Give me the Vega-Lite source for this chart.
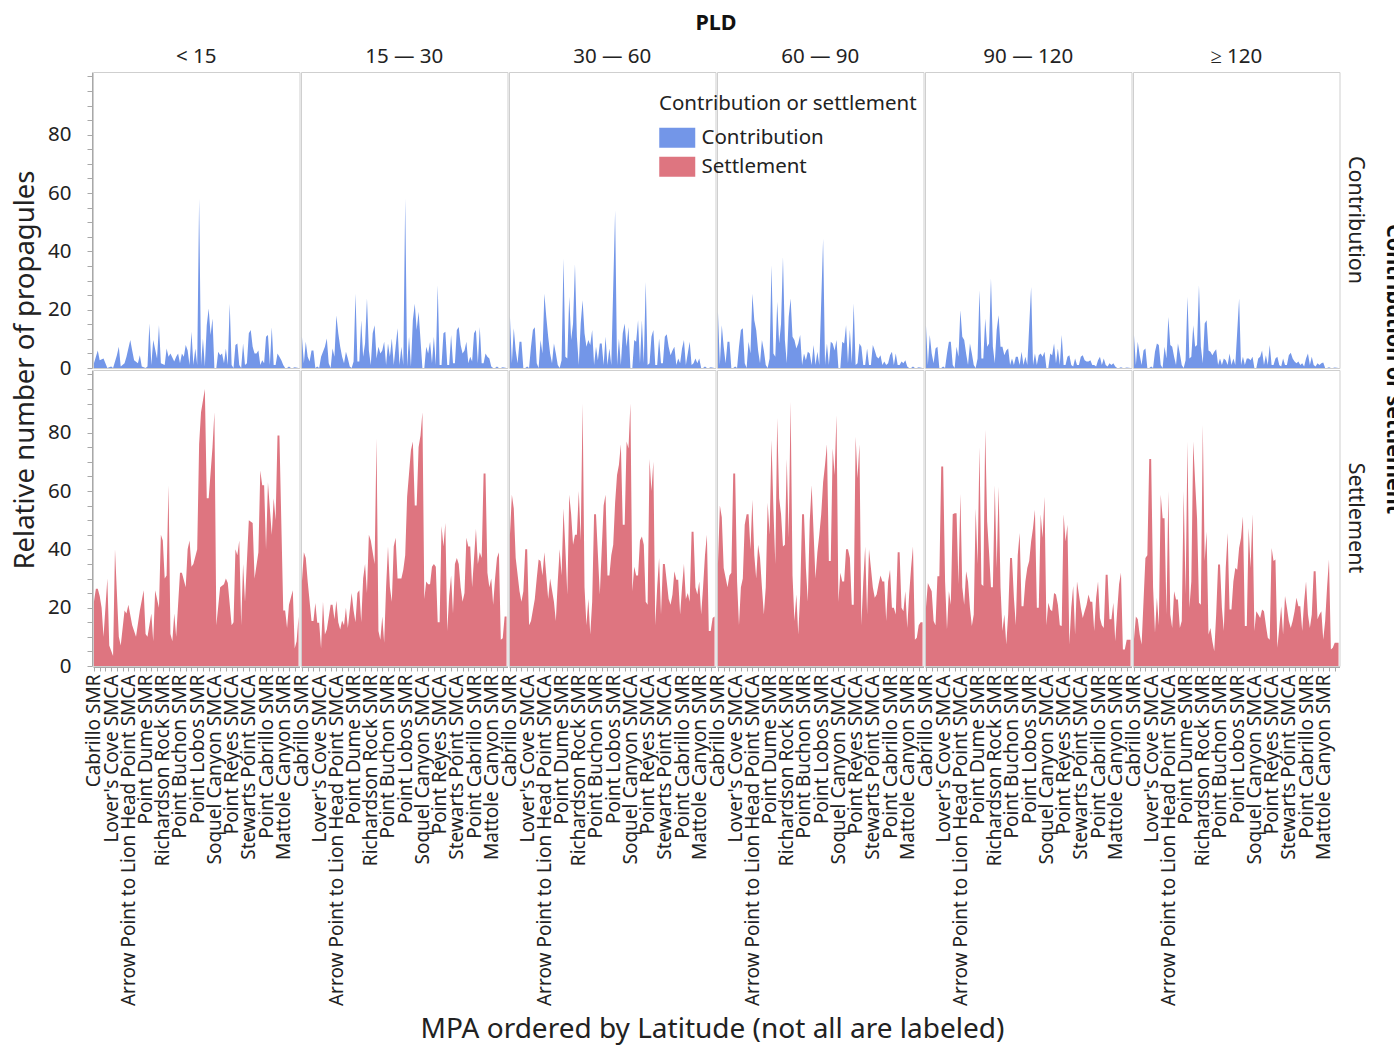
{
"$schema": "https://vega.github.io/schema/vega-lite/v6.json",
"padding": {"left": 12, "top": 12, "right": 0, "bottom": 2},
"title": {"text": "Relative number of propagules", "orient": "left", "anchor": "middle", "fontSize": 27.5, "fontWeight": "normal", "color": "#222", "offset": 8, "dx": 158},
"hconcat": [{
"title": {"text": "MPA ordered by Latitude (not all are labeled)", "orient": "bottom", "anchor": "middle", "fontSize": 28, "fontWeight": "normal", "color": "#222", "offset": 10, "dx": -13},
"data": {"values": [
{"p":1,"i":0,"c":1.6,"s":22},{"p":1,"i":1,"s":26.5},{"p":1,"i":2,"c":6,"s":26.5},{"p":1,"i":3,"c":2.7,"s":24},{"p":1,"i":4,"s":20},{"p":1,"i":5,"c":3.3,"s":10},{"p":1,"i":6,"c":1.6},{"p":1,"i":7,"c":0,"s":30},{"p":1,"i":8,"s":7},{"p":1,"i":9,"c":0.5},{"p":1,"i":10,"c":0,"s":3.4},{"p":1,"i":11,"s":40},{"p":1,"i":12,"c":4.4},{"p":1,"i":13,"c":7.3,"s":10},{"p":1,"i":14,"c":0.5,"s":7},{"p":1,"i":16,"c":1.6,"s":19},{"p":1,"i":17,"c":3.9,"s":18},{"p":1,"i":18,"s":21},{"p":1,"i":19,"c":9.6},{"p":1,"i":20,"c":6,"s":14},{"p":1,"i":21,"c":2.7},{"p":1,"i":22,"s":10},{"p":1,"i":23,"c":1.6},{"p":1,"i":24,"c":4.4,"s":19},{"p":1,"i":25,"c":0.5},{"p":1,"i":26,"s":26},{"p":1,"i":27,"c":0,"s":11},{"p":1,"i":28,"c":0.5,"s":10},{"p":1,"i":29,"c":15.3},{"p":1,"i":30,"c":1,"s":18},{"p":1,"i":31,"c":9.6,"s":8.5},{"p":1,"i":32,"s":26},{"p":1,"i":33,"c":3.3},{"p":1,"i":34,"c":14.7,"s":20},{"p":1,"i":35,"c":1.6,"s":45},{"p":1,"i":36,"s":43},{"p":1,"i":37,"c":1,"s":30},{"p":1,"i":38,"c":6.7,"s":31},{"p":1,"i":39,"c":3.9,"s":62},{"p":1,"i":40,"c":5,"s":11},{"p":1,"i":41,"s":8.5},{"p":1,"i":42,"c":2.2,"s":18},{"p":1,"i":43,"c":3.9,"s":10},{"p":1,"i":44,"c":5},{"p":1,"i":45,"c":1.6,"s":32},{"p":1,"i":46,"c":5,"s":32},{"p":1,"i":47,"c":3.9},{"p":1,"i":48,"c":7.9,"s":27},{"p":1,"i":49,"c":6,"s":40},{"p":1,"i":50,"c":1,"s":43},{"p":1,"i":51,"c":12.4,"s":34},{"p":1,"i":52,"c":1,"s":35},{"p":1,"i":53,"c":6.7},{"p":1,"i":54,"c":1,"s":40},{"p":1,"i":55,"c":58,"s":76},{"p":1,"i":56,"c":1,"s":87},{"p":1,"i":57,"c":10.1},{"p":1,"i":58,"c":0.5,"s":95},{"p":1,"i":59,"c":14.7,"s":57.5},{"p":1,"i":60,"c":20.4,"s":57.5},{"p":1,"i":61,"c":11.3},{"p":1,"i":62,"c":17,"s":75},{"p":1,"i":63,"c":0,"s":87},{"p":1,"i":64,"c":0,"s":14},{"p":1,"i":65,"c":5.6},{"p":1,"i":66,"c":4.4,"s":27},{"p":1,"i":67,"c":5},{"p":1,"i":68,"c":1.6,"s":28},{"p":1,"i":69,"c":6.7,"s":30},{"p":1,"i":70,"c":1,"s":28.5},{"p":1,"i":71,"c":22},{"p":1,"i":72,"c":1,"s":14},{"p":1,"i":73,"c":0,"s":15},{"p":1,"i":74,"c":7.9,"s":40},{"p":1,"i":75,"c":8.4,"s":38},{"p":1,"i":76,"c":1,"s":43},{"p":1,"i":77,"c":0,"s":14},{"p":1,"i":78,"c":8.4,"s":35},{"p":1,"i":79,"c":1,"s":22},{"p":1,"i":80,"c":1.6},{"p":1,"i":81,"c":11.9,"s":50},{"p":1,"i":82,"c":13},{"p":1,"i":83,"c":7.3,"s":49},{"p":1,"i":84,"c":5,"s":30},{"p":1,"i":85,"c":5},{"p":1,"i":86,"c":6,"s":39},{"p":1,"i":87,"c":1,"s":67},{"p":1,"i":88,"c":2.7,"s":62},{"p":1,"i":89,"c":1.6,"s":62},{"p":1,"i":90,"c":10.7,"s":40},{"p":1,"i":91,"c":11.3,"s":63},{"p":1,"i":92,"c":1},{"p":1,"i":93,"c":14,"s":45},{"p":1,"i":94,"c":1,"s":57.5},{"p":1,"i":95,"c":1,"s":50},{"p":1,"i":96,"c":5,"s":79},{"p":1,"i":97,"c":3.9,"s":79},{"p":1,"i":98,"c":2.7},{"p":1,"i":99,"c":1,"s":19},{"p":1,"i":100,"c":0,"s":19},{"p":1,"i":101,"c":0,"s":13},{"p":1,"i":102,"c":0.5,"s":21},{"p":1,"i":103,"c":0},{"p":1,"i":104,"c":0,"s":26},{"p":1,"i":105,"c":0.3,"s":6},{"p":1,"i":106,"s":8.5},{"p":1,"i":107,"c":0,"s":17},
{"p":2,"i":0,"c":10.7,"s":29},{"p":2,"i":1,"c":1.6,"s":39},{"p":2,"i":2,"c":9,"s":37},{"p":2,"i":3,"c":3.9,"s":29},{"p":2,"i":4,"c":2.2},{"p":2,"i":5,"c":6,"s":15.4},{"p":2,"i":6,"c":6,"s":15.4},{"p":2,"i":7,"c":0,"s":21.6},{"p":2,"i":8,"c":0.5,"s":14.8},{"p":2,"i":9,"c":0,"s":14.8},{"p":2,"i":10,"c":3.9,"s":6},{"p":2,"i":11,"s":22},{"p":2,"i":12,"c":7.3,"s":10.8},{"p":2,"i":13,"c":10.1,"s":12.5},{"p":2,"i":14,"c":1.6},{"p":2,"i":15,"c":0,"s":21},{"p":2,"i":16,"c":6.7,"s":21},{"p":2,"i":17,"c":3.9,"s":16},{"p":2,"i":18,"c":18,"s":22.4},{"p":2,"i":19,"c":11.9,"s":15},{"p":2,"i":20,"c":7.3,"s":12.5},{"p":2,"i":21,"c":3.9,"s":15.6},{"p":2,"i":22,"c":1.6,"s":14},{"p":2,"i":23,"c":5.6,"s":20},{"p":2,"i":24,"c":3.3,"s":13},{"p":2,"i":25,"c":0.5},{"p":2,"i":26,"c":0,"s":25},{"p":2,"i":27,"c":2.2,"s":19},{"p":2,"i":28,"c":25.5,"s":15},{"p":2,"i":29,"c":2.2,"s":25},{"p":2,"i":30,"c":2.2,"s":26},{"p":2,"i":31,"c":16.4,"s":15},{"p":2,"i":32,"c":3.9,"s":30},{"p":2,"i":33,"c":8.4,"s":35},{"p":2,"i":34,"c":23.8,"s":25},{"p":2,"i":35,"c":6,"s":45},{"p":2,"i":36,"c":1,"s":43},{"p":2,"i":37,"c":11.9,"s":39},{"p":2,"i":38,"c":14.7,"s":35},{"p":2,"i":39,"c":3.3,"s":78},{"p":2,"i":40,"c":7.3,"s":12},{"p":2,"i":41,"c":5,"s":9},{"p":2,"i":42,"c":6,"s":17},{"p":2,"i":43,"c":9,"s":8},{"p":2,"i":44,"c":1,"s":27},{"p":2,"i":45,"c":8.4,"s":41},{"p":2,"i":46,"c":3.9,"s":27},{"p":2,"i":47,"c":10.1,"s":22},{"p":2,"i":48,"c":1,"s":41},{"p":2,"i":49,"c":7.3,"s":44},{"p":2,"i":50,"c":13.6,"s":30},{"p":2,"i":51,"c":1},{"p":2,"i":52,"c":7.3,"s":30},{"p":2,"i":53,"c":1,"s":33},{"p":2,"i":54,"c":58,"s":38},{"p":2,"i":55,"c":0.5,"s":58},{"p":2,"i":56,"c":10.7,"s":66},{"p":2,"i":57,"c":0.5,"s":74},{"p":2,"i":58,"c":16.4,"s":77},{"p":2,"i":59,"c":22,"s":55},{"p":2,"i":60,"c":13,"s":55},{"p":2,"i":61,"c":19.3,"s":75},{"p":2,"i":62,"s":79},{"p":2,"i":63,"c":0,"s":87},{"p":2,"i":64,"c":0,"s":23},{"p":2,"i":65,"c":7.3,"s":29},{"p":2,"i":66,"c":5,"s":28},{"p":2,"i":67,"c":9,"s":28},{"p":2,"i":68,"c":1.6,"s":34},{"p":2,"i":69,"c":10.7,"s":35},{"p":2,"i":70,"c":1,"s":34},{"p":2,"i":71,"c":28.4,"s":15},{"p":2,"i":72,"c":1,"s":15},{"p":2,"i":73,"c":1,"s":48},{"p":2,"i":74,"c":11.9,"s":41},{"p":2,"i":75,"c":12.4,"s":49},{"p":2,"i":76,"c":1,"s":12},{"p":2,"i":77,"c":1,"s":24},{"p":2,"i":78,"c":11.3,"s":31},{"p":2,"i":79,"c":1.6,"s":18},{"p":2,"i":80,"c":1.6,"s":35},{"p":2,"i":81,"c":13,"s":37},{"p":2,"i":82,"c":14.1,"s":35},{"p":2,"i":83,"c":7.9,"s":27},{"p":2,"i":84,"c":5,"s":22},{"p":2,"i":85,"c":6,"s":25},{"p":2,"i":86,"c":9,"s":44},{"p":2,"i":87,"c":1.6,"s":41},{"p":2,"i":88,"c":3.9,"s":41},{"p":2,"i":89,"c":2.2,"s":27},{"p":2,"i":90,"c":11.9,"s":37},{"p":2,"i":91,"c":13,"s":47},{"p":2,"i":92,"c":1.6,"s":35},{"p":2,"i":93,"c":14.1,"s":39},{"p":2,"i":94,"c":1.6,"s":37},{"p":2,"i":95,"c":1.6,"s":66},{"p":2,"i":96,"c":5,"s":66},{"p":2,"i":97,"c":3.9,"s":32},{"p":2,"i":98,"c":3.3,"s":27},{"p":2,"i":99,"c":0.5,"s":30},{"p":2,"i":100,"c":0,"s":21},{"p":2,"i":101,"c":0,"s":30},{"p":2,"i":102,"c":0.5,"s":37},{"p":2,"i":103,"c":0,"s":39},{"p":2,"i":104,"c":0,"s":9},{"p":2,"i":105,"c":0.3,"s":9.5},{"p":2,"i":106,"s":17},{"p":2,"i":107,"c":0,"s":17},
{"p":3,"i":0,"c":17.5,"s":45},{"p":3,"i":1,"c":1.6,"s":58.7},{"p":3,"i":2,"c":13.6,"s":54},{"p":3,"i":3,"c":6,"s":37},{"p":3,"i":4,"c":1.6},{"p":3,"i":5,"c":9,"s":25.6},{"p":3,"i":6,"c":9,"s":22},{"p":3,"i":7,"c":0,"s":25.6},{"p":3,"i":8,"c":0,"s":40},{"p":3,"i":9,"c":0.5,"s":40},{"p":3,"i":10,"c":0,"s":14},{"p":3,"i":11,"c":7.3,"s":15.4},{"p":3,"i":12,"c":13},{"p":3,"i":13,"c":14,"s":23},{"p":3,"i":14,"c":1.6,"s":30},{"p":3,"i":15,"c":0,"s":36.5},{"p":3,"i":16,"c":9.6,"s":36},{"p":3,"i":17,"c":5,"s":31},{"p":3,"i":18,"c":25.5,"s":39},{"p":3,"i":19,"c":17.5,"s":31},{"p":3,"i":20,"c":10.7,"s":23},{"p":3,"i":21,"c":5,"s":30},{"p":3,"i":22,"c":1.6,"s":26},{"p":3,"i":23,"c":8.4,"s":22},{"p":3,"i":24,"c":5,"s":15.4},{"p":3,"i":25,"c":1,"s":29},{"p":3,"i":26,"c":0,"s":40},{"p":3,"i":27,"c":2.7,"s":31},{"p":3,"i":28,"c":37.5,"s":54},{"p":3,"i":29,"c":3.9,"s":40},{"p":3,"i":30,"c":3.3,"s":24.5},{"p":3,"i":31,"c":24.4,"s":58.7},{"p":3,"i":32,"c":9.6,"s":52},{"p":3,"i":33,"c":15.3,"s":41.6},{"p":3,"i":34,"c":35.6,"s":45},{"p":3,"i":35,"c":10.7,"s":45},{"p":3,"i":36,"c":1,"s":60},{"p":3,"i":37,"c":15.3,"s":43},{"p":3,"i":38,"c":23.2,"s":90},{"p":3,"i":39,"c":11.9,"s":27},{"p":3,"i":40,"c":7.3,"s":14},{"p":3,"i":41,"c":9.6,"s":23},{"p":3,"i":42,"c":7.9,"s":10.8},{"p":3,"i":43,"c":13,"s":22},{"p":3,"i":44,"c":1,"s":52},{"p":3,"i":45,"c":7.3,"s":52},{"p":3,"i":46,"c":2.7},{"p":3,"i":47,"c":8.4,"s":24.5},{"p":3,"i":48,"c":8.4,"s":40},{"p":3,"i":49,"c":1,"s":55},{"p":3,"i":50,"c":10.7,"s":58.7},{"p":3,"i":51,"c":1,"s":31},{"p":3,"i":52,"c":6.7,"s":31},{"p":3,"i":53,"c":1,"s":38},{"p":3,"i":54,"s":41.6},{"p":3,"i":55,"c":54,"s":56},{"p":3,"i":56,"c":1,"s":65.5},{"p":3,"i":57,"c":10.1,"s":69},{"p":3,"i":58,"c":1,"s":76},{"p":3,"i":59,"c":11.9,"s":48.4},{"p":3,"i":60,"c":15.3,"s":48.4},{"p":3,"i":61,"c":7.3,"s":77},{"p":3,"i":62,"c":14.1,"s":74.6},{"p":3,"i":63,"c":0,"s":90},{"p":3,"i":64,"c":0,"s":25.6},{"p":3,"i":65,"c":9.6,"s":34},{"p":3,"i":66,"c":9,"s":31},{"p":3,"i":67,"c":16.4,"s":31},{"p":3,"i":68,"c":1.6,"s":43},{"p":3,"i":69,"c":16.4,"s":44.4},{"p":3,"i":70,"c":1.6,"s":41.6},{"p":3,"i":71,"c":29.5,"s":22},{"p":3,"i":72,"c":1,"s":21},{"p":3,"i":73,"c":1.6,"s":71},{"p":3,"i":74,"c":10.7,"s":60},{"p":3,"i":75,"c":13,"s":70},{"p":3,"i":76,"c":1,"s":14},{"p":3,"i":77,"c":1,"s":27},{"p":3,"i":78,"c":10.1,"s":37},{"p":3,"i":79,"c":1.6,"s":17.7},{"p":3,"i":80,"c":1.6,"s":35},{"p":3,"i":81,"c":10.7,"s":35},{"p":3,"i":82,"c":11.6,"s":29},{"p":3,"i":83,"c":7.3,"s":23},{"p":3,"i":84,"c":4.4,"s":21},{"p":3,"i":85,"c":6,"s":24.5},{"p":3,"i":86,"c":7.3,"s":32.5},{"p":3,"i":87,"c":1,"s":29.6},{"p":3,"i":88,"c":3.3,"s":29.6},{"p":3,"i":89,"c":1.6,"s":17.7},{"p":3,"i":90,"c":6.7,"s":27},{"p":3,"i":91,"c":9.6,"s":35},{"p":3,"i":92,"c":1,"s":23},{"p":3,"i":93,"s":25},{"p":3,"i":94,"c":9,"s":22},{"p":3,"i":95,"c":1,"s":46},{"p":3,"i":96,"c":1.6,"s":46},{"p":3,"i":97,"c":3.3,"s":27},{"p":3,"i":98,"c":1.6,"s":24.5},{"p":3,"i":99,"c":3.3,"s":29},{"p":3,"i":100,"c":0,"s":17.7},{"p":3,"i":101,"c":0,"s":27},{"p":3,"i":102,"c":0.5,"s":38},{"p":3,"i":103,"c":0,"s":45},{"p":3,"i":104,"c":0,"s":12},{"p":3,"i":105,"c":0.3,"s":12},{"p":3,"i":106,"s":16.5},{"p":3,"i":107,"c":0,"s":17},
{"p":4,"i":0,"c":19.3,"s":35},{"p":4,"i":1,"c":1,"s":55},{"p":4,"i":2,"c":14.7,"s":51},{"p":4,"i":3,"c":7.3,"s":33.6},{"p":4,"i":4,"c":1.6},{"p":4,"i":5,"c":9,"s":27},{"p":4,"i":6,"c":9,"s":31},{"p":4,"i":7,"c":0,"s":32},{"p":4,"i":8,"c":0,"s":66},{"p":4,"i":9,"c":0.5,"s":66},{"p":4,"i":10,"c":0,"s":29},{"p":4,"i":11,"c":7.3,"s":14},{"p":4,"i":12,"c":13,"s":27},{"p":4,"i":13,"c":13.6,"s":30},{"p":4,"i":14,"c":1.6,"s":48.4},{"p":4,"i":15,"c":0,"s":52},{"p":4,"i":16,"c":9,"s":52},{"p":4,"i":17,"c":5,"s":40},{"p":4,"i":18,"c":25.5,"s":57},{"p":4,"i":19,"c":16.4,"s":38},{"p":4,"i":20,"c":13,"s":30},{"p":4,"i":21,"c":6,"s":41.6},{"p":4,"i":22,"c":1.6,"s":37},{"p":4,"i":23,"c":9.6,"s":27},{"p":4,"i":24,"c":6,"s":17.7},{"p":4,"i":25,"c":1,"s":27},{"p":4,"i":26,"c":0,"s":56},{"p":4,"i":27,"c":3.3,"s":45},{"p":4,"i":28,"c":35.2,"s":77.5},{"p":4,"i":29,"c":5,"s":54},{"p":4,"i":30,"c":3.9,"s":35},{"p":4,"i":31,"c":22.7,"s":85},{"p":4,"i":32,"c":8.4,"s":57.5},{"p":4,"i":33,"c":15.3,"s":52},{"p":4,"i":34,"c":38,"s":41},{"p":4,"i":35,"c":9.6,"s":41.6},{"p":4,"i":36,"c":1.6,"s":71},{"p":4,"i":37,"c":17.5,"s":44},{"p":4,"i":38,"c":23.8,"s":90.6},{"p":4,"i":39,"c":10.7,"s":31},{"p":4,"i":40,"c":9.6,"s":15.4},{"p":4,"i":41,"c":6.7,"s":24.5},{"p":4,"i":42,"c":8.4,"s":10.8},{"p":4,"i":43,"c":11.3,"s":24.5},{"p":4,"i":44,"c":1,"s":52},{"p":4,"i":45,"c":5,"s":52},{"p":4,"i":46,"c":2.7,"s":33.6},{"p":4,"i":47,"c":5.6,"s":22},{"p":4,"i":48,"c":5,"s":49.6},{"p":4,"i":49,"c":1,"s":62},{"p":4,"i":50,"c":7.9,"s":46},{"p":4,"i":51,"c":1,"s":30},{"p":4,"i":52,"c":5.6,"s":39},{"p":4,"i":53,"c":1,"s":45},{"p":4,"i":54,"s":52},{"p":4,"i":55,"c":44.3,"s":63},{"p":4,"i":56,"c":1,"s":69},{"p":4,"i":57,"c":8.4,"s":76},{"p":4,"i":58,"c":1,"s":36},{"p":4,"i":59,"c":9,"s":36},{"p":4,"i":60,"c":8.4,"s":74.6},{"p":4,"i":61,"c":6,"s":65.5},{"p":4,"i":62,"c":9.6,"s":86},{"p":4,"i":63,"c":0,"s":22},{"p":4,"i":64,"c":0,"s":32},{"p":4,"i":65,"c":9,"s":29},{"p":4,"i":66,"c":8.4,"s":29},{"p":4,"i":67,"c":14.7,"s":40},{"p":4,"i":68,"c":1.6,"s":40},{"p":4,"i":69,"c":13,"s":37},{"p":4,"i":70,"c":1.6,"s":21},{"p":4,"i":71,"c":22.1,"s":21},{"p":4,"i":72,"c":1,"s":78.6},{"p":4,"i":73,"c":1.6,"s":64.4},{"p":4,"i":74,"c":8.4,"s":76},{"p":4,"i":75,"c":7.3,"s":14},{"p":4,"i":76,"c":1,"s":29},{"p":4,"i":77,"c":1,"s":41},{"p":4,"i":78,"c":6.7,"s":17.7},{"p":4,"i":79,"c":1,"s":40},{"p":4,"i":80,"c":1,"s":33.6},{"p":4,"i":81,"c":7.9,"s":27},{"p":4,"i":82,"c":6,"s":23.4},{"p":4,"i":83,"c":3.9,"s":24.5},{"p":4,"i":84,"c":3.3,"s":28},{"p":4,"i":85,"c":4.4,"s":31},{"p":4,"i":86,"c":1,"s":29},{"p":4,"i":87,"c":2.2,"s":29},{"p":4,"i":88,"c":1,"s":15.4},{"p":4,"i":89,"c":1.6,"s":29},{"p":4,"i":90,"c":4.4,"s":33},{"p":4,"i":91,"c":5.6,"s":20},{"p":4,"i":92,"c":1,"s":20},{"p":4,"i":93,"c":5,"s":17.7},{"p":4,"i":94,"c":1,"s":39},{"p":4,"i":95,"c":1,"s":39},{"p":4,"i":96,"c":2.2,"s":20},{"p":4,"i":97,"c":1.6,"s":18.8},{"p":4,"i":98,"c":2.7,"s":25.6},{"p":4,"i":99,"c":0.5,"s":13},{"p":4,"i":100,"c":0,"s":24.5},{"p":4,"i":101,"c":0,"s":33.6},{"p":4,"i":102,"c":0.5,"s":41},{"p":4,"i":103,"c":0,"s":9},{"p":4,"i":104,"c":0,"s":9.7},{"p":4,"i":105,"c":0.3,"s":14},{"p":4,"i":106,"s":15},{"p":4,"i":107,"c":0,"s":15},
{"p":5,"i":0,"c":14.7,"s":20},{"p":5,"i":1,"c":1,"s":28.5},{"p":5,"i":2,"c":11.3},{"p":5,"i":3,"c":5,"s":25.6},{"p":5,"i":4,"c":1.6,"s":15.4},{"p":5,"i":5,"c":6.7,"s":14},{"p":5,"i":6,"c":7.3,"s":30.8},{"p":5,"i":7,"c":0,"s":30.8},{"p":5,"i":8,"c":0,"s":68.4},{"p":5,"i":9,"c":0.5,"s":68.4},{"p":5,"i":10,"c":0,"s":29},{"p":5,"i":11,"c":5,"s":12.5},{"p":5,"i":12,"c":9,"s":25.6},{"p":5,"i":13,"c":9,"s":21},{"p":5,"i":14,"c":1,"s":52},{"p":5,"i":15,"c":0,"s":52.4},{"p":5,"i":16,"c":7.3,"s":52.4},{"p":5,"i":17,"c":3.9,"s":28},{"p":5,"i":18,"c":19.8,"s":59},{"p":5,"i":19,"c":10.7,"s":27},{"p":5,"i":20,"c":9.6,"s":21},{"p":5,"i":21,"c":5,"s":32.5},{"p":5,"i":22,"c":1,"s":29},{"p":5,"i":23,"c":8.4,"s":20},{"p":5,"i":24,"c":5,"s":13.7},{"p":5,"i":25,"c":1,"s":17.7},{"p":5,"i":26,"c":0,"s":54},{"p":5,"i":27,"c":3.3,"s":35},{"p":5,"i":28,"c":26.7,"s":75},{"p":5,"i":29,"c":3.3,"s":28},{"p":5,"i":30,"c":3.3,"s":27.4},{"p":5,"i":31,"c":17,"s":81},{"p":5,"i":32,"c":7.3,"s":49.6},{"p":5,"i":33,"c":8.4,"s":39},{"p":5,"i":34,"c":30.7,"s":27},{"p":5,"i":35,"c":7.3,"s":27},{"p":5,"i":36,"c":1.6,"s":62},{"p":5,"i":37,"c":13,"s":33.6},{"p":5,"i":38,"c":18.1,"s":61.5},{"p":5,"i":39,"c":7.3,"s":27},{"p":5,"i":40,"c":7.3,"s":12},{"p":5,"i":41,"c":4.4,"s":17.7},{"p":5,"i":42,"c":6,"s":7.4},{"p":5,"i":43,"c":6.7,"s":17.7},{"p":5,"i":44,"c":1,"s":37},{"p":5,"i":45,"c":3.3,"s":37},{"p":5,"i":46,"c":1,"s":23.4},{"p":5,"i":47,"c":3.9,"s":14},{"p":5,"i":48,"c":3.9,"s":38},{"p":5,"i":49,"c":1,"s":45.6},{"p":5,"i":50,"c":5.6,"s":20.5},{"p":5,"i":51,"c":1,"s":20.5},{"p":5,"i":52,"c":3.9,"s":29},{"p":5,"i":53,"c":1,"s":33.6},{"p":5,"i":54,"s":36},{"p":5,"i":55,"c":27.8,"s":42.7},{"p":5,"i":56,"c":1,"s":47.3},{"p":5,"i":57,"c":5,"s":53.6},{"p":5,"i":58,"c":1,"s":20},{"p":5,"i":59,"c":4.4,"s":20},{"p":5,"i":60,"c":5,"s":52},{"p":5,"i":61,"c":3.9,"s":44},{"p":5,"i":62,"c":5.6,"s":58},{"p":5,"i":63,"c":0,"s":14},{"p":5,"i":64,"c":0,"s":21.7},{"p":5,"i":65,"c":5,"s":19.4},{"p":5,"i":66,"c":4.4,"s":18.8},{"p":5,"i":67,"c":8.4,"s":25},{"p":5,"i":68,"c":1.6,"s":24.5},{"p":5,"i":69,"c":6.7,"s":21},{"p":5,"i":70,"c":1,"s":14},{"p":5,"i":71,"c":11.3,"s":13.7},{"p":5,"i":72,"c":1,"s":52},{"p":5,"i":73,"c":1,"s":42.7},{"p":5,"i":74,"c":3.9,"s":48.4},{"p":5,"i":75,"c":4.4,"s":7.4},{"p":5,"i":76,"c":1,"s":20},{"p":5,"i":77,"c":0.5,"s":27.4},{"p":5,"i":78,"c":3.3,"s":10.8},{"p":5,"i":79,"c":1,"s":29},{"p":5,"i":80,"c":1,"s":24.5},{"p":5,"i":81,"c":3.9,"s":20},{"p":5,"i":82,"c":4.4,"s":16.5},{"p":5,"i":83,"c":2.7,"s":18.8},{"p":5,"i":84,"c":2.2,"s":21},{"p":5,"i":85,"c":2.2,"s":24.5},{"p":5,"i":86,"c":2.7,"s":22},{"p":5,"i":87,"c":1,"s":22},{"p":5,"i":88,"c":1,"s":12},{"p":5,"i":89,"c":0.5,"s":23.4},{"p":5,"i":90,"c":2.7,"s":29},{"p":5,"i":91,"c":3.9,"s":16.5},{"p":5,"i":92,"c":1,"s":14},{"p":5,"i":93,"c":3.3,"s":13},{"p":5,"i":94,"c":1,"s":31.3},{"p":5,"i":95,"c":0.5,"s":31.3},{"p":5,"i":96,"c":1.6,"s":16},{"p":5,"i":97,"c":1,"s":16},{"p":5,"i":98,"c":1.6,"s":21.7},{"p":5,"i":99,"c":0.5,"s":8.5},{"p":5,"i":100,"c":0,"s":18.8},{"p":5,"i":101,"c":0,"s":28},{"p":5,"i":102,"c":0.3,"s":32},{"p":5,"i":103,"c":0,"s":5.7},{"p":5,"i":104,"c":0,"s":5.7},{"p":5,"i":105,"c":0.2,"s":9},{"p":5,"i":106,"s":9},{"p":5,"i":107,"c":0,"s":9},
{"p":6,"i":0,"c":11.3,"s":9},{"p":6,"i":1,"c":1,"s":17},{"p":6,"i":2,"c":9,"s":16},{"p":6,"i":3,"c":4.4,"s":10.8},{"p":6,"i":4,"c":1,"s":7.4},{"p":6,"i":5,"c":6},{"p":6,"i":6,"c":6.7,"s":37},{"p":6,"i":7,"c":0,"s":38},{"p":6,"i":8,"c":0,"s":71},{"p":6,"i":9,"c":0.5,"s":71},{"p":6,"i":10,"c":0,"s":27},{"p":6,"i":11,"c":5.6,"s":11.4},{"p":6,"i":12,"c":8.4,"s":23.4},{"p":6,"i":13,"c":7.9,"s":14},{"p":6,"i":14,"c":1,"s":58.7},{"p":6,"i":15,"c":0,"s":50.7},{"p":6,"i":16,"c":7.3,"s":50.7},{"p":6,"i":17,"c":3.3,"s":17.7},{"p":6,"i":18,"c":17.5,"s":60},{"p":6,"i":19,"c":7.9,"s":17.7},{"p":6,"i":20,"c":7.3,"s":13},{"p":6,"i":21,"c":3.9,"s":25.6},{"p":6,"i":22,"c":1,"s":22.8},{"p":6,"i":23,"c":8.4,"s":22.8},{"p":6,"i":24,"c":5,"s":13},{"p":6,"i":25,"c":1,"s":15.4},{"p":6,"i":26,"c":0,"s":60},{"p":6,"i":27,"c":2.7,"s":24.5},{"p":6,"i":28,"c":24.4,"s":77},{"p":6,"i":29,"c":3.3,"s":20},{"p":6,"i":30,"c":3.9,"s":29},{"p":6,"i":31,"c":14.7,"s":77},{"p":6,"i":32,"c":7.3,"s":63},{"p":6,"i":33,"c":7.9,"s":50.7},{"p":6,"i":34,"c":28.4,"s":21.7},{"p":6,"i":35,"c":7.3,"s":21},{"p":6,"i":36,"c":1.6,"s":82.6},{"p":6,"i":37,"c":15.3,"s":36},{"p":6,"i":38,"c":16.4,"s":46},{"p":6,"i":39,"c":6,"s":10.8},{"p":6,"i":40,"c":5.6,"s":13},{"p":6,"i":41,"c":4.4,"s":8.5},{"p":6,"i":42,"c":5.6,"s":5.1},{"p":6,"i":43,"c":6.4,"s":17.7},{"p":6,"i":44,"c":1,"s":34.8},{"p":6,"i":45,"c":3.3,"s":34.8},{"p":6,"i":46,"c":1,"s":20},{"p":6,"i":47,"c":3.3,"s":12},{"p":6,"i":48,"c":2.7,"s":33.6},{"p":6,"i":49,"c":1,"s":45.6},{"p":6,"i":50,"c":5,"s":19.4},{"p":6,"i":51,"c":1,"s":19.4},{"p":6,"i":52,"c":3.3,"s":29},{"p":6,"i":53,"c":1,"s":33.6},{"p":6,"i":54,"s":33},{"p":6,"i":55,"c":23.8,"s":40.5},{"p":6,"i":56,"c":1,"s":44},{"p":6,"i":57,"c":3.9,"s":51.3},{"p":6,"i":58,"c":1,"s":13.7},{"p":6,"i":59,"c":3.3,"s":13.7},{"p":6,"i":60,"c":3.3,"s":47.3},{"p":6,"i":61,"c":2.7,"s":33.6},{"p":6,"i":62,"c":3.9,"s":52},{"p":6,"i":63,"c":0,"s":12},{"p":6,"i":64,"c":0,"s":18.8},{"p":6,"i":65,"c":3.3,"s":17.7},{"p":6,"i":66,"c":3.9,"s":16.5},{"p":6,"i":67,"c":6,"s":19.4},{"p":6,"i":68,"c":1,"s":18.8},{"p":6,"i":69,"c":4.4,"s":14},{"p":6,"i":70,"c":1,"s":9.7},{"p":6,"i":71,"c":7.9,"s":9},{"p":6,"i":72,"c":1,"s":40.5},{"p":6,"i":73,"c":1,"s":36},{"p":6,"i":74,"c":3.3,"s":36.5},{"p":6,"i":75,"c":3.9,"s":6.3},{"p":6,"i":76,"c":1,"s":13},{"p":6,"i":77,"c":0.5,"s":20.5},{"p":6,"i":78,"c":3.3,"s":10.8},{"p":6,"i":79,"c":1,"s":24},{"p":6,"i":80,"c":1,"s":20},{"p":6,"i":81,"c":4.4,"s":15.4},{"p":6,"i":82,"c":5.2,"s":13},{"p":6,"i":83,"c":3.3,"s":15.4},{"p":6,"i":84,"c":2.2,"s":18.8},{"p":6,"i":85,"c":1.6,"s":23.4},{"p":6,"i":86,"c":2.2,"s":20.5},{"p":6,"i":87,"c":1,"s":20.5},{"p":6,"i":88,"c":1.6,"s":12},{"p":6,"i":89,"c":0.5,"s":22},{"p":6,"i":90,"c":3.3,"s":29},{"p":6,"i":91,"c":5,"s":17.7},{"p":6,"i":92,"c":1,"s":13},{"p":6,"i":93,"c":3.9,"s":17.7},{"p":6,"i":94,"c":1,"s":32.5},{"p":6,"i":95,"c":0.5,"s":32.5},{"p":6,"i":96,"c":1.6,"s":16},{"p":6,"i":97,"c":1,"s":17.7},{"p":6,"i":98,"c":1.6,"s":18.8},{"p":6,"i":99,"c":1.9,"s":9},{"p":6,"i":100,"c":0,"s":15.4},{"p":6,"i":101,"c":0,"s":27},{"p":6,"i":102,"c":0.3,"s":36.5},{"p":6,"i":103,"c":0,"s":5.7},{"p":6,"i":104,"c":0,"s":6.3},{"p":6,"i":105,"c":0.2,"s":8},{"p":6,"i":106,"s":8},{"p":6,"i":107,"c":0,"s":8}
]},
"transform": [{"fold": ["c", "s"], "as": ["t", "v"]}, {"filter": {"field": "v", "valid": true}}],
"facet": {
  "column": {"field": "p", "type": "ordinal", "header": {"title": "PLD", "titleFontSize": 21.5, "titleFontWeight": "bold", "titleColor": "#111", "titlePadding": 2, "labelFontSize": 20.5, "labelColor": "#222", "labelPadding": 4, "labelExpr": "['< 15','15 — 30','30 — 60','60 — 90','90 — 120','≥ 120'][datum.value - 1]"}},
  "row": {"field": "t", "type": "nominal", "header": {"title": "Contribution or settlement", "titleFontSize": 21.5, "titleFontWeight": "bold", "titleColor": "#111", "titleOrient": "right", "titleAngle": 90, "titlePadding": 6, "labelOrient": "right", "labelAngle": 90, "labelFontSize": 21.5, "labelColor": "#222", "labelPadding": 4, "labelExpr": "datum.value == 'c' ? 'Contribution' : 'Settlement'"}}
},
"spacing": {"row": 0, "column": 0},
"spec": {
  "width": 206.5,
  "height": 296,
  "mark": {"type": "area", "interpolate": "linear"},
  "encoding": {
    "x": {"field": "i", "type": "quantitative", "scale": {"domain": [-0.5, 107.5], "nice": false, "zero": false},
      "axis": {"title": null, "values": [0,3,6,9,12,15,18,21,24,27,30,33,36,39,42,45,48,51,54,57,60,63,66,69,72,75,78,81,84,87,90,93,96,99,102,105],
        "labelExpr": "datum.value % 9 == 0 ? ['Cabrillo SMR', \"Lover's Cove SMCA\", 'Arrow Point to Lion Head Point SMCA', 'Point Dume SMR', 'Richardson Rock SMR', 'Point Buchon SMR', 'Point Lobos SMR', 'Soquel Canyon SMCA', 'Point Reyes SMCA', 'Stewarts Point SMCA', 'Point Cabrillo SMR', 'Mattole Canyon SMR'][datum.value / 9] : ''",
        "labelAngle": -90, "labelFontSize": 19, "labelLimit": 500, "labelOverlap": false, "labelFlush": false, "tickSize": 4, "labelPadding": 3}},
    "y": {"field": "v", "type": "quantitative", "stack": null, "scale": {"domain": [0, 101.5], "nice": false},
      "axis": {"title": null, "values": [0,5,10,15,20,25,30,35,40,45,50,55,60,65,70,75,80,85,90,95,100],
        "labelExpr": "datum.value % 20 == 0 && datum.value < 100 ? datum.label : ''", "labelFontSize": 20.5, "labelOverlap": false, "labelFlush": false, "tickSize": 5, "labelPadding": 16}},
    "color": {"field": "t", "type": "nominal", "scale": {"domain": ["c", "s"], "range": ["#7396E8", "#DE7580"]},
      "legend": {"title": "Contribution or settlement", "orient": "none", "legendX": 566, "legendY": 22, "titleFontSize": 20.5, "titleFontWeight": "normal", "titleColor": "#222", "titleLimit": 500, "titlePadding": 13, "labelFontSize": 20.5, "labelColor": "#222", "labelLimit": 400, "symbolType": "M-1,-1H2.6V1H-1Z", "symbolSize": 400, "symbolStrokeWidth": 0, "rowPadding": 8, "labelOffset": 22, "labelExpr": "datum.value == 'c' ? 'Contribution' : 'Settlement'"}}
  }
}
}],
"config": {
  "font": "Noto Sans",
  "view": {"stroke": "#cfcfcf", "strokeWidth": 1},
  "axis": {"grid": false, "domainColor": "#a8a8a8", "tickColor": "#a8a8a8", "labelColor": "#222", "titleColor": "#222"}
}
}
